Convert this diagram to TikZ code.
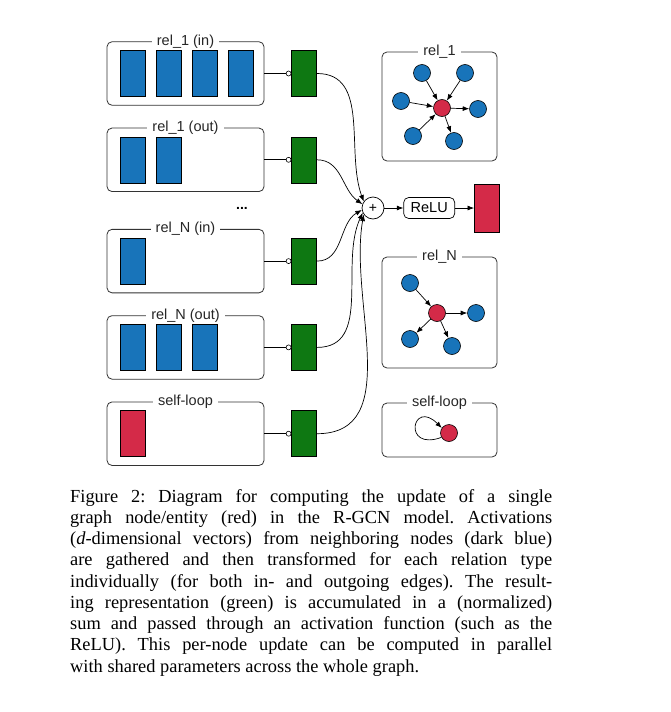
\documentclass[tikz,border=0pt]{standalone}
\usepackage{fontspec}
\setmainfont{Liberation Serif}
\newfontfamily\sansfam{Liberation Sans}
\usepackage{tikz}
\usetikzlibrary{shapes,arrows,arrows.meta,chains,positioning}
\definecolor{vecblue}{RGB}{24,116,186}
\definecolor{transgreen}{RGB}{14,120,18}
\definecolor{entred}{RGB}{212,42,72}
\tikzstyle{relbox}=[rectangle, draw=black!80, rounded corners=5pt, line width=0.8pt, minimum width=157pt, minimum height=63.5pt]
\tikzstyle{graphbox}=[rectangle, draw=black!80, rounded corners=5pt, line width=0.8pt, minimum width=115pt]
\tikzstyle{boxlabel}=[fill=white, inner xsep=5pt, inner ysep=1pt, font=\sansfam\fontsize{14.5}{17}\selectfont, text=black!85]
\tikzstyle{vec}=[rectangle, draw=black, line width=0.6pt, fill=vecblue, minimum width=25pt, minimum height=46pt, inner sep=0pt]
\tikzstyle{selfvec}=[vec, fill=entred]
\tikzstyle{trans}=[vec, fill=transgreen]
\tikzstyle{joint}=[circle, draw, line width=0.6pt, fill=white, minimum size=5pt, inner sep=0pt]
\tikzstyle{nb}=[circle, draw=black, line width=0.6pt, fill=vecblue, minimum size=17pt, inner sep=0pt]
\tikzstyle{ent}=[nb, fill=entred]
\tikzstyle{sumnode}=[circle, draw, line width=0.7pt, minimum size=22pt, inner sep=0pt, font=\sansfam\fontsize{14}{16}\selectfont]
\tikzstyle{actbox}=[rectangle, draw, rounded corners=5pt, line width=0.7pt, minimum width=51pt, minimum height=21pt, inner sep=0pt, font=\sansfam\fontsize{14.5}{17}\selectfont]
\tikzstyle{link}=[line width=0.7pt, -{Latex[length=6.5pt,width=5pt]}]
\tikzstyle{caption}=[anchor=north west, text width=482pt, inner sep=0pt, align=justify, font=\fontsize{18.4}{21.25}\selectfont]

\begin{document}
\begin{tikzpicture}[x=1pt, y=1pt, start chain=rels going below, node distance=22pt]
\useasboundingbox[fill=white] (0,0) rectangle (670,-712);
\node [relbox, on chain=rels] (in1) at (185.5,-73.5) {};
\node [relbox, on chain=rels] (out1) {};
\node [relbox, on chain=rels, yshift=-15pt] (inN) {};
\node [relbox, on chain=rels] (outN) {};
\node [relbox, on chain=rels] (self) {};
\foreach \b/\t in {in1/rel\_1 (in), out1/rel\_1 (out), inN/rel\_N (in), outN/rel\_N (out), self/self-loop}
  \node [boxlabel] (\b-lab) at (\b.north) {\t};

\begin{scope}[start chain=v1 going right, node distance=10.5pt]
\node [vec, on chain=v1, right=13pt of in1.west] (v11) {};
\node [vec, on chain=v1] (v12) {};
\node [vec, on chain=v1] (v13) {};
\node [vec, on chain=v1] (v14) {};
\end{scope}
\begin{scope}[start chain=v2 going right, node distance=10.5pt]
\node [vec, on chain=v2, right=13pt of out1.west] (v21) {};
\node [vec, on chain=v2] (v22) {};
\end{scope}
\node [vec, right=13pt of inN.west] (v31) {};
\begin{scope}[start chain=v4 going right, node distance=10.5pt]
\node [vec, on chain=v4, right=13pt of outN.west] (v41) {};
\node [vec, on chain=v4] (v42) {};
\node [vec, on chain=v4] (v43) {};
\end{scope}
\node [selfvec, right=13pt of self.west] (v51) {};
\node [font=\sansfam\bfseries\fontsize{14}{16}\selectfont] (dots) at (242,-208) {...};

\foreach \b in {in1,out1,inN,outN,self} {
  \node [trans, right=27pt of \b] (\b-w) {};
  \node [joint, left=0pt of \b-w] (\b-j) {};
  \draw [line width=0.7pt] (\b) -- (\b-j);
}

\node [sumnode] (sum) at (373,-208) {+};
\node [actbox, right=19pt of sum] (relu) {ReLU};
\node [selfvec, minimum height=48pt, right=19pt of relu] (hout) {};
\draw [link] (sum) -- (relu);
\draw [link] (relu) -- (hout);
\draw [link] (in1-w.east) to[out=0,in=110] (sum.145);
\draw [link] (out1-w.east) to[out=0,in=145] (sum.160);
\draw [link] (inN-w.east) to[out=0,in=210] (sum.190);
\draw [link] (outN-w.east) to[out=0,in=245] (sum.205);
\draw [link] (self-w.east) to[out=0,in=260] (sum.215);

\node [graphbox, minimum height=109pt] (g1) at (439.5,-106.5) {};
\node [graphbox, minimum height=111pt] (gN) at (439.5,-312.5) {};
\node [graphbox, minimum height=54pt] (gs) at (439.5,-430) {};
\foreach \b/\t in {g1/rel\_1, gN/rel\_N, gs/self-loop}
  \node [boxlabel] (\b-lab) at (\b.north) {\t};

\node [ent] (e1) at (442,-108) {};
\node [nb] (a1) at (422,-73) {};
\node [nb] (a2) at (465,-73) {};
\node [nb] (a3) at (401,-101) {};
\node [nb] (a4) at (478,-109) {};
\node [nb] (a5) at (413,-136) {};
\node [nb] (a6) at (454,-141) {};
\draw [link] (a1) -- (e1);
\draw [link] (a2) -- (e1);
\draw [link] (a3) -- (e1);
\draw [link] (e1) -- (a4);
\draw [link] (a5) -- (e1);
\draw [link] (e1) -- (a6);

\node [ent] (e2) at (437,-313) {};
\node [nb] (b1) at (410,-283) {};
\node [nb] (b2) at (476,-313) {};
\node [nb] (b3) at (410,-339) {};
\node [nb] (b4) at (452,-346) {};
\draw [link] (b1) -- (e2);
\draw [link] (e2) -- (b2);
\draw [link] (e2) -- (b3);
\draw [link] (e2) -- (b4);

\node [ent] (e3) at (449,-433) {};
\draw [link] (e3.210) to[out=200,in=135,distance=42pt] (e3.145);

\node [caption] (cap) at (70,-489) {\tolerance=9999 \emergencystretch=20pt \hyphenpenalty=10000 \frenchspacing
Figure 2: Diagram for computing the update of a single\linebreak
graph node/entity (red) in the R-GCN model. Activations\linebreak
(\textit{d}-dimensional vectors) from neighboring nodes (dark blue)\linebreak
are gathered and then transformed for each relation type\linebreak
individually (for both in- and outgoing edges). The result-\linebreak
ing representation (green) is accumulated in a (normalized)\linebreak
sum and passed through an activation function (such as the\linebreak
ReLU). This per-node update can be computed in parallel\linebreak
with shared parameters across the whole graph.};
\end{tikzpicture}
\end{document}
